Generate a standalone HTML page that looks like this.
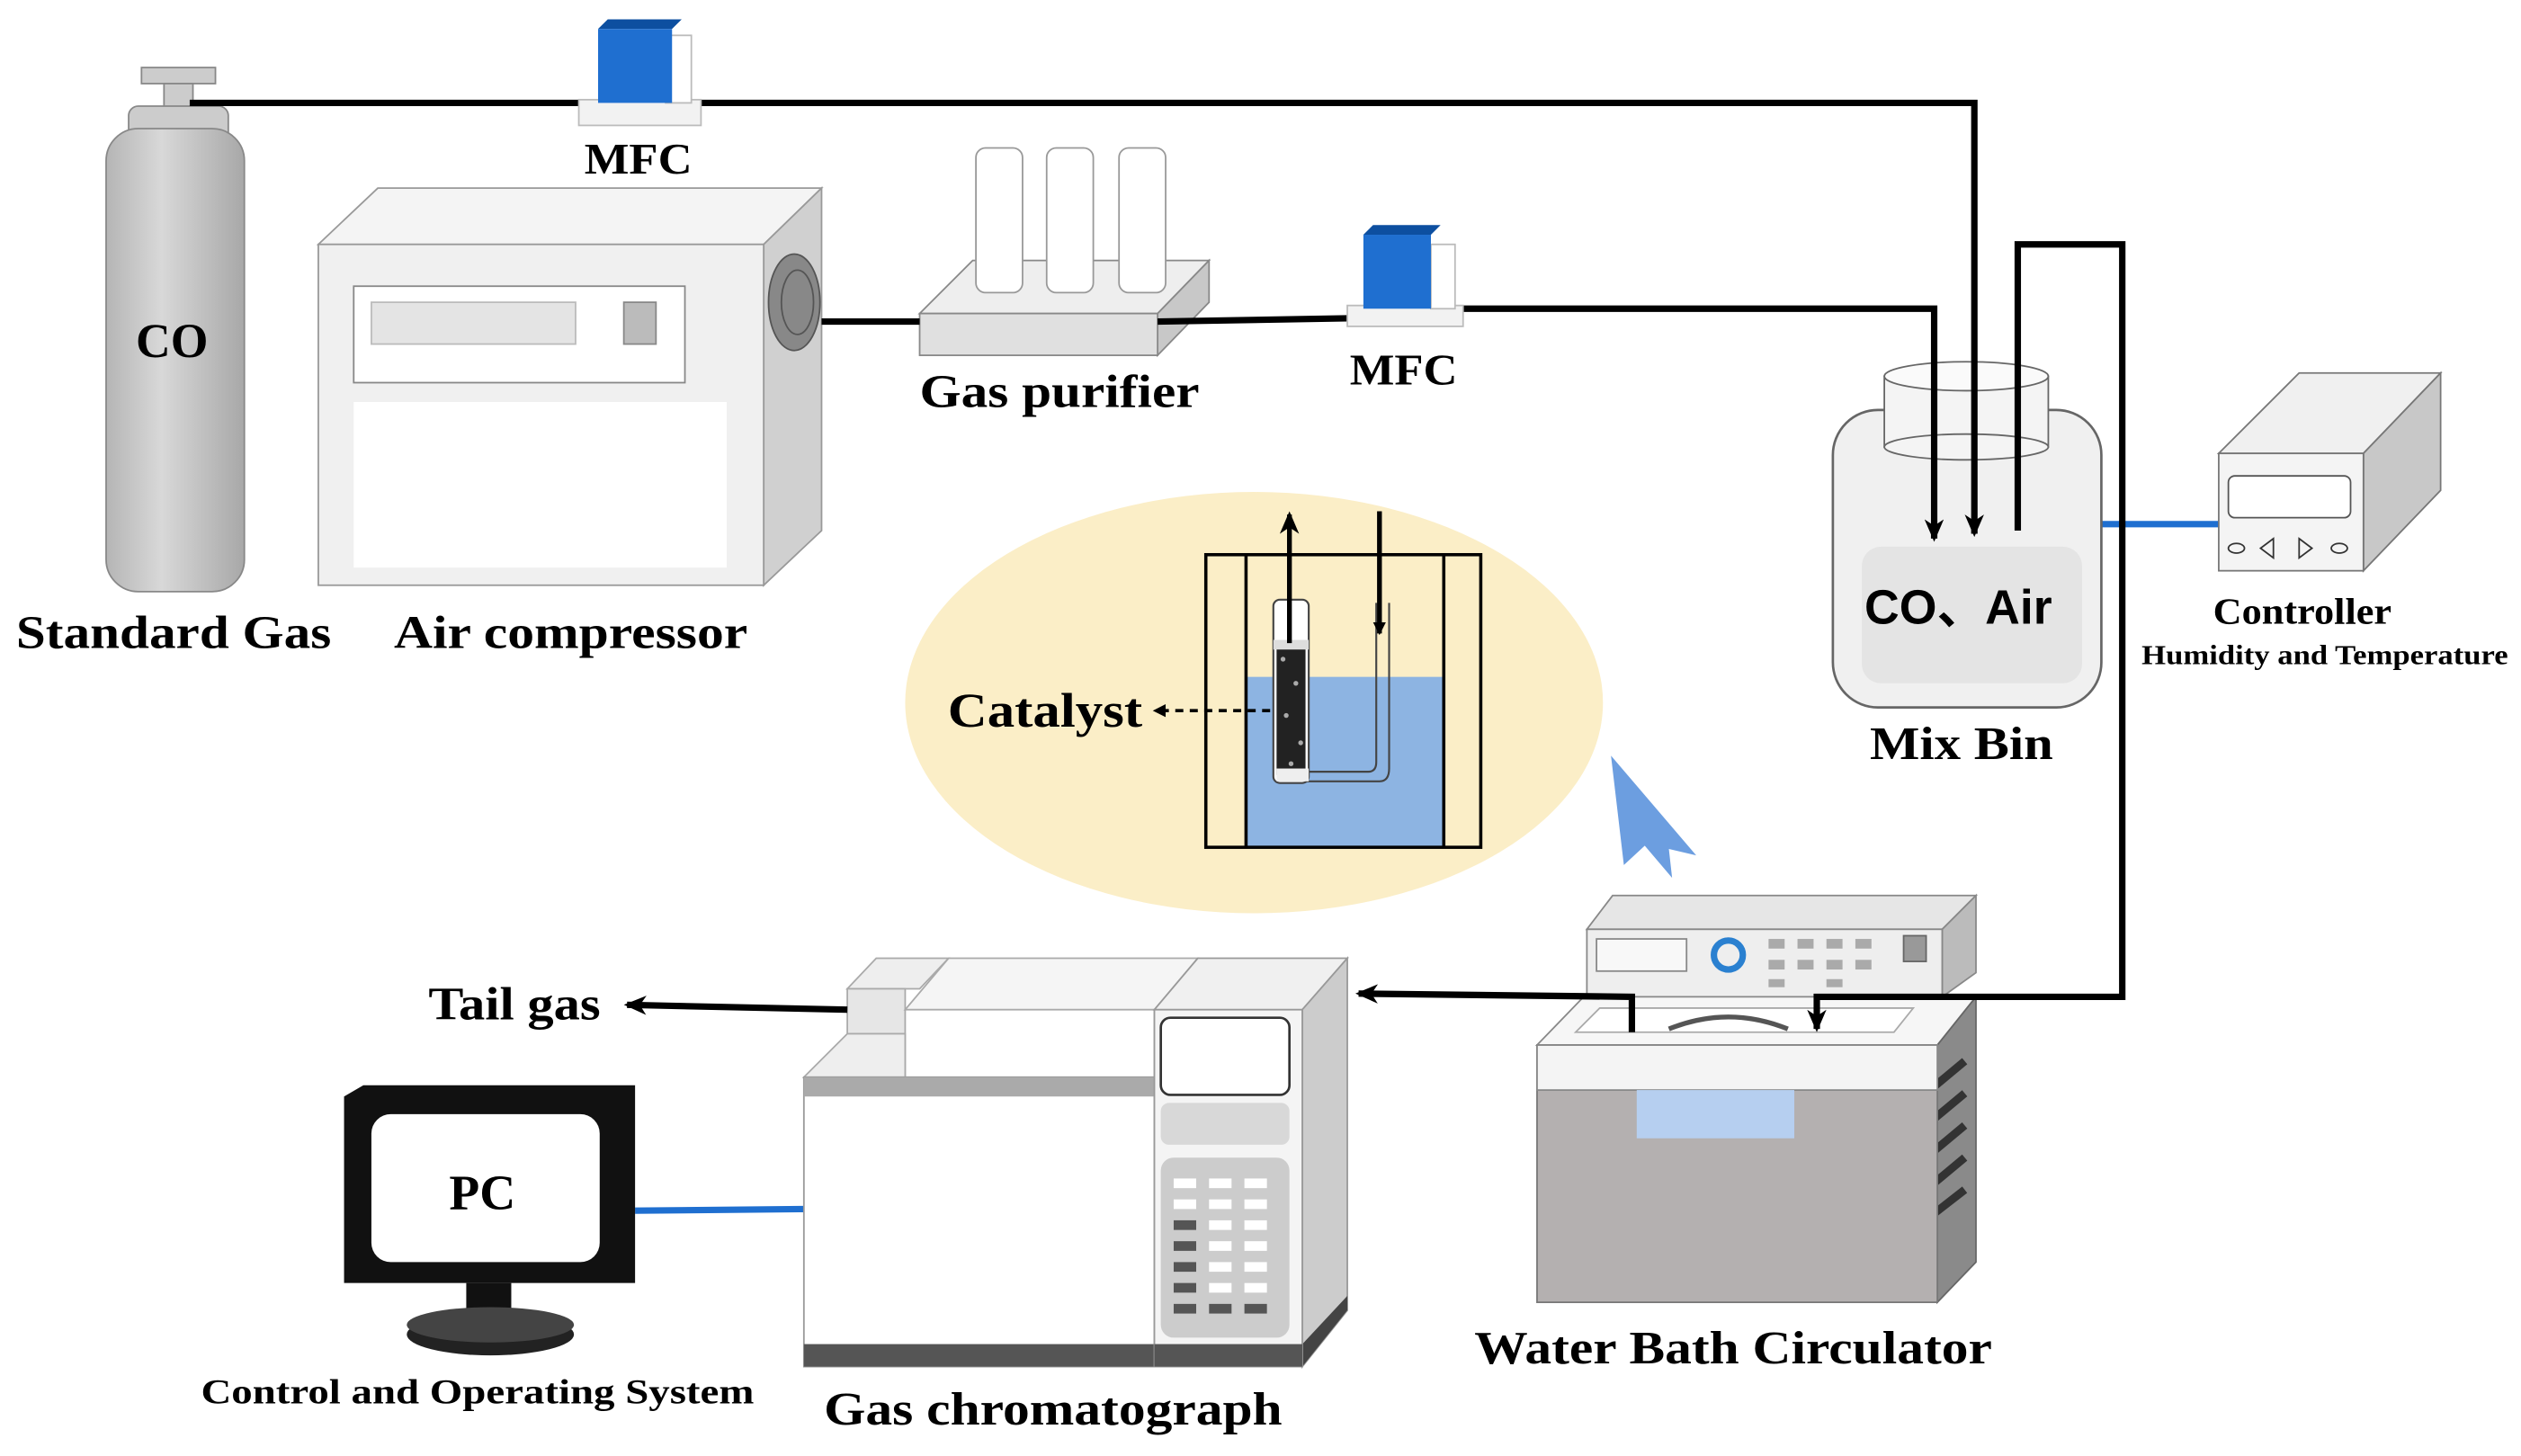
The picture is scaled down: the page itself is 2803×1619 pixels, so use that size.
<!DOCTYPE html>
<html><head><meta charset="utf-8"><style>
html,body{margin:0;padding:0;background:#fff}
svg{display:block}
.t{font-family:"Liberation Serif",serif;font-weight:bold;fill:#000;text-anchor:middle}
</style></head><body>
<svg width="2803" height="1619" viewBox="0 0 1568 905.6" preserveAspectRatio="none" xmlns="http://www.w3.org/2000/svg">
<defs>
<marker id="ah" markerWidth="8" markerHeight="8" refX="7" refY="4" orient="auto" markerUnits="userSpaceOnUse"><path d="M0,0 L8,4 L0,8 Z" fill="#000"/></marker>
<marker id="ah2" markerWidth="14" markerHeight="12" refX="12" refY="6" orient="auto" markerUnits="userSpaceOnUse"><path d="M0,0 L14,6 L0,12 L4,6 Z" fill="#000"/></marker>
<linearGradient id="cyl" x1="0" x2="1"><stop offset="0" stop-color="#b5b5b5"/><stop offset=".4" stop-color="#d8d8d8"/><stop offset="1" stop-color="#a8a8a8"/></linearGradient>
</defs>
<g stroke="#1f6fd0" stroke-width="4"><line x1="1307" y1="326" x2="1380" y2="326"/><line x1="395" y1="753" x2="500" y2="752"/></g>
<!-- CO cylinder -->
<rect x="88" y="42" width="46" height="10" fill="#ccc" stroke="#888"/>
<rect x="102" y="52" width="18" height="16" fill="#ccc" stroke="#888"/>
<rect x="80" y="66" width="62" height="24" rx="6" fill="#ccc" stroke="#888"/>
<rect x="66" y="80" width="86" height="288" rx="20" fill="url(#cyl)" stroke="#888"/>
<text class="t" x="107" y="222" font-size="30">CO</text>
<text class="t" x="108" y="403" font-size="29" textLength="196" lengthAdjust="spacingAndGlyphs">Standard Gas</text>
<!-- Air compressor -->
<path d="M198,152 L235,117 L511,117 L475,152 Z" fill="#f4f4f4" stroke="#999"/>
<path d="M475,152 L511,117 L511,330 L475,364 Z" fill="#d0d0d0" stroke="#999"/>
<rect x="198" y="152" width="277" height="212" fill="#f0f0f0" stroke="#999"/>
<rect x="220" y="178" width="206" height="60" fill="#fff" stroke="#888"/>
<rect x="231" y="188" width="127" height="26" fill="#e4e4e4" stroke="#bbb"/>
<rect x="388" y="188" width="20" height="26" fill="#bbb" stroke="#888"/>
<rect x="220" y="250" width="232" height="103" fill="#fff"/>
<ellipse cx="494" cy="188" rx="16" ry="30" fill="#888" stroke="#555"/>
<ellipse cx="496" cy="188" rx="10" ry="20" fill="none" stroke="#555"/>
<text class="t" x="355" y="403" font-size="29" textLength="220" lengthAdjust="spacingAndGlyphs">Air compressor</text>
<!-- Gas purifier -->
<path d="M572,195 L605,162 L752,162 L720,195 Z" fill="#eee" stroke="#888"/>
<path d="M720,195 L752,162 L752,188 L720,221 Z" fill="#c8c8c8" stroke="#888"/>
<rect x="572" y="195" width="148" height="26" fill="#e0e0e0" stroke="#888"/>
<g fill="#fff" stroke="#999">
<rect x="607" y="92" width="29" height="90" rx="6"/><rect x="651" y="92" width="29" height="90" rx="6"/><rect x="696" y="92" width="29" height="90" rx="6"/>
</g>
<text class="t" x="659" y="253" font-size="29" textLength="174" lengthAdjust="spacingAndGlyphs">Gas purifier</text>
<!-- Mix bin -->
<rect x="1140" y="255" width="167" height="185" rx="28" fill="#f0f0f0" stroke="#666" stroke-width="1.5"/>
<rect x="1158" y="340" width="137" height="85" rx="12" fill="#e4e4e4"/>
<rect x="1172" y="234" width="102" height="44" fill="#f4f4f4" stroke="#666"/>
<ellipse cx="1223" cy="278" rx="51" ry="8" fill="#f4f4f4" stroke="#666"/>
<ellipse cx="1223" cy="234" rx="51" ry="9" fill="#fafafa" stroke="#666"/>
<text x="1218" y="388" font-family="Liberation Sans,'Noto Sans CJK SC',sans-serif" font-weight="bold" font-size="30" text-anchor="middle">CO、Air</text>
<text class="t" x="1220" y="472" font-size="29" textLength="114" lengthAdjust="spacingAndGlyphs">Mix Bin</text>
<!-- Controller -->
<path d="M1380,282 L1430,232 L1518,232 L1470,282 Z" fill="#f0f0f0" stroke="#777"/>
<path d="M1470,282 L1518,232 L1518,305 L1470,355 Z" fill="#c8c8c8" stroke="#777"/>
<rect x="1380" y="282" width="90" height="73" fill="#f4f4f4" stroke="#777"/>
<rect x="1386" y="296" width="76" height="26" rx="4" fill="#fff" stroke="#555"/>
<g fill="none" stroke="#333"><ellipse cx="1391" cy="341" rx="5" ry="3"/><path d="M1414,335 L1406,341 L1414,347 Z"/><path d="M1430,335 L1438,341 L1430,347 Z"/><ellipse cx="1455" cy="341" rx="5" ry="3"/></g>
<text class="t" x="1432" y="388" font-size="23" textLength="111" lengthAdjust="spacingAndGlyphs">Controller</text>
<text class="t" x="1446" y="413" font-size="17" textLength="228" lengthAdjust="spacingAndGlyphs">Humidity  and Temperature</text>
<!-- Yellow ellipse and reactor -->
<ellipse cx="780" cy="437" rx="217" ry="131" fill="#fbeec7"/>
<rect x="775" y="421" width="123" height="106" fill="#8db4e2"/>
<rect x="750" y="345" width="171" height="182" fill="none" stroke="#000" stroke-width="2"/>
<line x1="775" y1="345" x2="775" y2="527" stroke="#000" stroke-width="2"/>
<line x1="898" y1="345" x2="898" y2="527" stroke="#000" stroke-width="2"/>
<rect x="792" y="373" width="22" height="114" rx="4" fill="#fff" stroke="#444" stroke-width="1.2"/>
<path d="M812,486 H858 Q864,486 864,478 V375 M812,480 H851 Q856,480 856,474 V375" fill="none" stroke="#444" stroke-width="1.2"/>
<rect x="794" y="400" width="18" height="82" fill="#222"/>
<g fill="#aaa"><circle cx="798" cy="410" r="1.5"/><circle cx="806" cy="425" r="1.5"/><circle cx="800" cy="445" r="1.5"/><circle cx="809" cy="462" r="1.5"/><circle cx="803" cy="475" r="1.5"/></g>
<rect x="792" y="398" width="22" height="6" fill="#ddd"/>
<rect x="794" y="478" width="20" height="8" fill="#eee"/>
<line x1="802" y1="400" x2="802" y2="320" stroke="#000" stroke-width="3" marker-end="url(#ah2)"/>
<line x1="858" y1="318" x2="858" y2="394" stroke="#000" stroke-width="3" marker-end="url(#ah)"/>
<line x1="790" y1="442" x2="718" y2="442" stroke="#000" stroke-width="2" stroke-dasharray="5,4" marker-end="url(#ah)"/>
<text class="t" x="650" y="452" font-size="30" textLength="121" lengthAdjust="spacingAndGlyphs">Catalyst</text>
<!-- blue arrow -->
<path d="M1002,470 L1055,532 L1038,528 L1040,546 L1023,526 L1010,538 Z" fill="#6c9ee0"/>
<!-- Water bath -->
<path d="M987,578 L1003,557 L1229,557 L1208,578 Z" fill="#e6e6e6" stroke="#888"/>
<path d="M1208,578 L1229,557 L1229,605 L1208,620 Z" fill="#bbb" stroke="#888"/>
<rect x="987" y="578" width="221" height="42" fill="#eee" stroke="#888"/>
<rect x="993" y="584" width="56" height="20" fill="#f8f8f8" stroke="#888"/>
<circle cx="1075" cy="594" r="9" fill="none" stroke="#2a80d0" stroke-width="4"/>
<g fill="#aaa"><rect x="1100" y="584" width="10" height="6"/><rect x="1118" y="584" width="10" height="6"/><rect x="1136" y="584" width="10" height="6"/><rect x="1154" y="584" width="10" height="6"/><rect x="1100" y="597" width="10" height="6"/><rect x="1118" y="597" width="10" height="6"/><rect x="1136" y="597" width="10" height="6"/><rect x="1154" y="597" width="10" height="6"/><rect x="1100" y="609" width="10" height="5"/><rect x="1136" y="609" width="10" height="5"/></g>
<rect x="1184" y="582" width="14" height="16" fill="#999" stroke="#666"/>
<path d="M956,650 L985,620 L1229,620 L1205,650 Z" fill="#f6f6f6" stroke="#888"/>
<path d="M980,642 L995,627 L1190,627 L1178,642 Z" fill="#fff" stroke="#aaa"/>
<path d="M1038,640 Q1075,625 1112,640" fill="none" stroke="#555" stroke-width="3"/>
<path d="M1205,650 L1229,620 L1229,785 L1205,810 Z" fill="#8a8a8a" stroke="#666"/>
<g stroke="#333" stroke-width="5"><line x1="1186" y1="690" x2="1222" y2="660"/><line x1="1186" y1="710" x2="1222" y2="680"/><line x1="1186" y1="730" x2="1222" y2="700"/><line x1="1186" y1="750" x2="1222" y2="720"/><line x1="1186" y1="768" x2="1222" y2="740"/></g>
<rect x="956" y="650" width="249" height="160" fill="#b4b0b0" stroke="#777"/>
<rect x="956" y="650" width="249" height="28" fill="#f4f4f4" stroke="#888"/>
<rect x="1018" y="678" width="98" height="30" fill="#b6cff0"/>
<text class="t" x="1078" y="848" font-size="29" textLength="322" lengthAdjust="spacingAndGlyphs">Water Bath Circulator</text>
<!-- GC -->
<path d="M527,615 L545,596 L590,596 L572,615 Z" fill="#eee" stroke="#aaa"/>
<rect x="527" y="615" width="36" height="28" fill="#e6e6e6" stroke="#aaa"/>
<path d="M563,628 L590,596 L745,596 L718,628 Z" fill="#f5f5f5" stroke="#aaa"/>
<rect x="563" y="628" width="155" height="42" fill="#fff" stroke="#aaa"/>
<path d="M500,670 L527,643 L563,643 L563,670 Z" fill="#eee" stroke="#aaa"/>
<rect x="500" y="670" width="218" height="180" fill="#fff" stroke="#999"/>
<rect x="500" y="670" width="218" height="12" fill="#aaa"/>
<rect x="500" y="836" width="218" height="14" fill="#555"/>
<path d="M718,628 L745,596 L838,596 L810,628 Z" fill="#f0f0f0" stroke="#999"/>
<path d="M810,628 L838,596 L838,815 L810,850 Z" fill="#ccc" stroke="#999"/>
<path d="M810,836 L838,806 L838,815 L810,850 Z" fill="#444"/>
<rect x="718" y="628" width="92" height="222" fill="#f4f4f4" stroke="#999"/>
<rect x="722" y="633" width="80" height="48" rx="6" fill="#fff" stroke="#333" stroke-width="1.5"/>
<rect x="722" y="686" width="80" height="26" rx="5" fill="#d8d8d8"/>
<rect x="722" y="720" width="80" height="112" rx="8" fill="#ccc"/>
<g fill="#fff">
<rect x="730" y="733" width="14" height="6"/><rect x="752" y="733" width="14" height="6"/><rect x="774" y="733" width="14" height="6"/>
<rect x="730" y="746" width="14" height="6"/><rect x="752" y="746" width="14" height="6"/><rect x="774" y="746" width="14" height="6"/>
<rect x="752" y="759" width="14" height="6"/><rect x="774" y="759" width="14" height="6"/>
<rect x="752" y="772" width="14" height="6"/><rect x="774" y="772" width="14" height="6"/>
<rect x="752" y="785" width="14" height="6"/><rect x="774" y="785" width="14" height="6"/>
<rect x="752" y="798" width="14" height="6"/><rect x="774" y="798" width="14" height="6"/>
</g>
<g fill="#555"><rect x="730" y="759" width="14" height="6"/><rect x="730" y="772" width="14" height="6"/><rect x="730" y="785" width="14" height="6"/><rect x="730" y="798" width="14" height="6"/><rect x="730" y="811" width="14" height="6"/><rect x="752" y="811" width="14" height="6"/><rect x="774" y="811" width="14" height="6"/></g>
<rect x="718" y="836" width="92" height="14" fill="#555"/>
<text class="t" x="655" y="886" font-size="29" textLength="285" lengthAdjust="spacingAndGlyphs">Gas chromatograph</text>
<text class="t" x="320" y="634" font-size="29" textLength="107" lengthAdjust="spacingAndGlyphs">Tail gas</text>
<!-- PC -->
<path d="M214,682 L226,675 L395,675 L395,798 L214,798 Z" fill="#111"/>
<rect x="231" y="693" width="142" height="92" rx="12" fill="#fff"/>
<text class="t" x="300" y="752" font-size="31">PC</text>
<rect x="290" y="798" width="28" height="18" fill="#111"/>
<ellipse cx="305" cy="830" rx="52" ry="13" fill="#222"/>
<ellipse cx="305" cy="824" rx="52" ry="11" fill="#444"/>
<text class="t" x="297" y="873" font-size="22" textLength="344" lengthAdjust="spacingAndGlyphs">Control  and  Operating  System</text>
<!-- pipes (on top) -->
<g fill="none" stroke="#000" stroke-width="4">
<path d="M118,64 H1228 V332" marker-end="url(#ah2)"/>
<path d="M511,200 H572"/>
<path d="M720,200 L838,198"/>
<path d="M905,192 H1203 V335" marker-end="url(#ah2)"/>
<path d="M1255,330 V152 H1320 V620 H1130 V640" marker-end="url(#ah2)"/>
<path d="M1015,642 V620 L845,618" marker-end="url(#ah2)"/>
<path d="M527,628 L390,625" marker-end="url(#ah2)"/>
</g>
<!-- MFC 1 -->
<rect x="360" y="62" width="76" height="16" fill="#f2f2f2" stroke="#bbb"/>
<rect x="414" y="22" width="16" height="42" fill="#fff" stroke="#bbb"/>
<path d="M372,18 L378,12 L424,12 L418,18 Z" fill="#0d4fa0"/>
<rect x="372" y="18" width="46" height="46" fill="#1f6fd0"/>
<text class="t" x="397" y="108" font-size="27" textLength="67" lengthAdjust="spacingAndGlyphs">MFC</text>
<!-- MFC 2 -->
<rect x="838" y="190" width="72" height="13" fill="#f2f2f2" stroke="#bbb"/>
<rect x="890" y="152" width="15" height="40" fill="#fff" stroke="#bbb"/>
<path d="M848,146 L854,140 L896,140 L890,146 Z" fill="#0d4fa0"/>
<rect x="848" y="146" width="42" height="46" fill="#1f6fd0"/>
<text class="t" x="873" y="239" font-size="27" textLength="67" lengthAdjust="spacingAndGlyphs">MFC</text>
</svg>
</body></html>
